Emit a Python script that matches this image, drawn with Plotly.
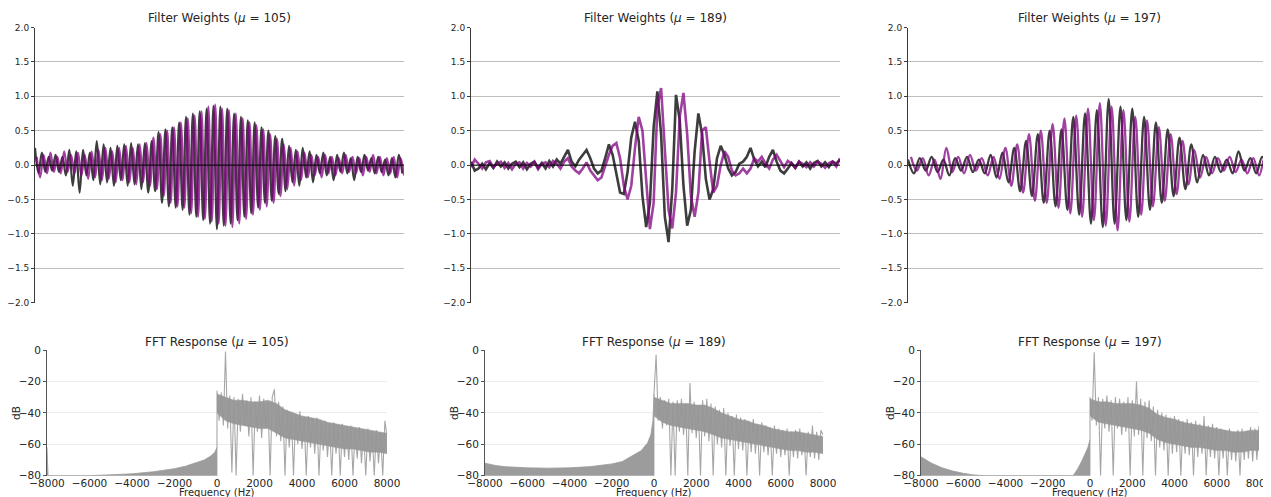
import plotly.graph_objects as go

# The page body has an 8px margin, so the figure is sized and laid out to land
# on the reference pixel positions inside the 1271x497 window.
OFF = 8
W, H = 1271 - OFF, 497 - OFF
FONT = "DejaVu Sans"
MU = [105, 189, 197]

# ---------------- Filter weights ----------------
# panel 1: successive half-cycle extrema (peak, trough, peak, ...)
P1_DARK = [0.25, -0.12, 0.18, -0.10, 0.12, -0.08, 0.15, -0.10, 0.12, -0.15,
           0.22, -0.30, 0.20, -0.40, 0.22, -0.15, 0.18, -0.22, 0.35, -0.28,
           0.30, -0.25, 0.25, -0.30, 0.28, -0.22, 0.30, -0.30, 0.32, -0.28,
           0.30, -0.35, 0.32, -0.40, 0.35, -0.38, 0.48, -0.55, 0.52, -0.60,
           0.55, -0.62, 0.62, -0.65, 0.70, -0.72, 0.75, -0.75, 0.78, -0.80,
           0.82, -0.85, 0.86, -0.93, 0.85, -0.88, 0.82, -0.85, 0.75, -0.80,
           0.70, -0.75, 0.65, -0.70, 0.62, -0.62, 0.55, -0.55, 0.50, -0.52,
           0.42, -0.42, 0.38, -0.38, 0.28, -0.25, 0.22, -0.30, 0.25, -0.18,
           0.20, -0.25, 0.15, -0.12, 0.18, -0.15, 0.12, -0.22, 0.15, -0.10,
           0.18, -0.12, 0.10, -0.22, 0.12, -0.10, 0.15, -0.08, 0.10, -0.12,
           0.12, -0.10, 0.08, -0.15, 0.10, -0.18, 0.15, -0.12]
P1_PURPLE = [0.12, -0.18, 0.15, -0.12, 0.18, -0.10, 0.12, -0.12, 0.20, -0.10,
             0.15, -0.12, 0.18, -0.15, 0.15, -0.20, 0.20, -0.18, 0.22, -0.22,
             0.25, -0.20, 0.20, -0.25, 0.25, -0.22, 0.28, -0.25, 0.25, -0.28,
             0.30, -0.25, 0.32, -0.30, 0.40, -0.35, 0.45, -0.45, 0.50, -0.55,
             0.55, -0.60, 0.62, -0.62, 0.68, -0.70, 0.72, -0.75, 0.78, -0.78,
             0.85, -0.82, 0.88, -0.85, 0.82, -0.88, 0.80, -0.90, 0.75, -0.85,
             0.68, -0.78, 0.62, -0.72, 0.58, -0.65, 0.52, -0.60, 0.45, -0.55,
             0.38, -0.45, 0.30, -0.35, 0.25, -0.30, 0.20, -0.22, 0.18, -0.18,
             0.15, -0.15, 0.12, -0.18, 0.15, -0.12, 0.12, -0.15, 0.10, -0.12,
             0.15, -0.10, 0.12, -0.12, 0.10, -0.15, 0.12, -0.10, 0.15, -0.12,
             0.12, -0.15, 0.10, -0.12, 0.12, -0.18, 0.10, -0.15]

# panel 2: samples on a regular grid
P2_DARK = [0.05, -0.08, -0.05, 0.02, -0.06, 0.03, -0.04, 0.05, -0.02, 0.04,
           -0.05, 0.02, 0.05, -0.03, 0.04, -0.06, 0.02, 0.05, -0.04, 0.03,
           -0.05, 0.06, -0.02, 0.08, 0.02, 0.12, 0.22, 0.05, -0.02, 0.08,
           0.15, 0.22, 0.10, -0.05, -0.12, -0.08, 0.10, 0.30, 0.15, -0.15,
           -0.40, -0.42, -0.10, 0.40, 0.63, 0.35, -0.45, -0.90, -0.55, 0.55,
           1.07, 0.45, -0.75, -1.12, -0.35, 1.02, 0.65, -0.30, -0.88, -0.65,
           0.20, 0.75, 0.45, -0.20, -0.50, -0.35, 0.10, 0.28, 0.15, -0.05,
           -0.15, -0.10, 0.02, 0.05, 0.12, 0.25, 0.08, -0.02, 0.05, -0.03,
           0.12, 0.22, 0.05, -0.08, -0.12, -0.05, 0.03, -0.04, 0.05, -0.02,
           0.04, -0.05, 0.03, 0.06, -0.02, 0.04, -0.03, 0.05, 0.02, 0.08]
P2_PURPLE = [-0.03, 0.08, 0.02, -0.05, 0.04, 0.06, -0.03, 0.02, 0.05, -0.04,
             0.03, -0.06, 0.02, 0.04, -0.05, 0.03, -0.02, 0.05, -0.06, 0.02,
             0.04, -0.03, 0.06, 0.02, -0.05, 0.05, 0.10, -0.02, -0.08, -0.12,
             -0.05, 0.04, -0.08, -0.15, -0.22, -0.18, 0.00, 0.15, 0.28, 0.32,
             0.10, -0.30, -0.50, -0.30, 0.25, 0.70, 0.50, -0.20, -0.93, -0.55,
             0.85, 1.12, 0.30, -0.65, -0.92, -0.40, 0.70, 1.05, 0.45, -0.45,
             -0.75, -0.40, 0.50, 0.55, 0.05, -0.40, -0.30, 0.00, 0.20, 0.12,
             -0.08, -0.15, -0.12, -0.05, -0.12, -0.05, 0.10, 0.05, 0.12, 0.02,
             -0.05, 0.08, 0.15, 0.05, -0.03, 0.06, 0.02, -0.04, 0.05, 0.02,
             -0.03, 0.04, -0.02, 0.05, 0.02, -0.04, 0.03, 0.05, -0.02, 0.10]

# panel 3: successive half-cycle extrema
P3_DARK = [0.08, -0.12, 0.10, -0.08, 0.12, -0.10, 0.08, -0.15, 0.10, -0.08,
           0.12, -0.10, 0.08, -0.12, 0.15, -0.18, 0.18, -0.25, 0.25, -0.38,
           0.35, -0.45, 0.45, -0.55, 0.50, -0.60, 0.52, -0.65, 0.70, -0.72,
           0.75, -0.85, 0.80, -0.90, 0.96, -0.85, 0.85, -0.80, 0.82, -0.75,
           0.70, -0.65, 0.62, -0.55, 0.52, -0.45, 0.40, -0.35, 0.30, -0.25,
           0.15, -0.15, 0.12, -0.10, 0.08, -0.12, 0.20, -0.08, 0.10, -0.12,
           0.12, -0.10]
P3_PURPLE = [0.12, -0.08, 0.10, -0.15, 0.08, -0.20, 0.25, -0.10, 0.12, -0.12,
             0.15, -0.08, 0.10, -0.15, 0.12, -0.20, 0.25, -0.30, 0.30, -0.40,
             0.45, -0.52, 0.50, -0.55, 0.60, -0.62, 0.68, -0.70, 0.72, -0.75,
             0.82, -0.80, 0.90, -0.88, 0.85, -0.95, 0.80, -0.82, 0.70, -0.72,
             0.65, -0.60, 0.55, -0.52, 0.45, -0.42, 0.35, -0.28, 0.22, -0.18,
             0.12, -0.12, 0.10, -0.08, 0.12, -0.10, 0.08, -0.12, 0.10, -0.15,
             0.12, -0.12]

# ---------------- FFT responses ----------------
FFT1_NEG_F = [-8000, -7990, -7950, -6000, -5000, -4000, -3000, -2000, -1500, -1000, -600, -300, -100, 0]
FFT1_NEG_DB = [-62, -72, -80, -80, -79.5, -78.8, -77.5, -75.5, -74, -72, -70, -67.5, -65, -62]
FFT2_NEG_F = [-8000, -7500, -7000, -6000, -5000, -4000, -3000, -2000, -1500, -1000, -600, -300, -150, -50, 0]
FFT2_NEG_DB = [-72, -73.5, -74.3, -75, -75.2, -75, -74.2, -72.5, -71, -67, -64, -59, -54, -45, -28]
FFT3_NEG_F = [-8000, -7500, -7000, -6500, -6000, -5500, -5000, -800, -600, -400, -200, -100, 0]
FFT3_NEG_DB = [-68, -72, -75, -77, -78.5, -79.5, -80, -80, -76, -71, -65, -62, -57]

# solid core of the noisy positive-frequency response (upper / lower edge)
BAND_F = list(range(0, 8001, 400))
FFT1_BAND_HI = [-28, -30, -32, -32, -33, -33, -32, -34, -38, -40, -42, -43, -44, -46, -47, -48, -49, -50, -51, -52, -53]
FFT1_BAND_LO = [-40, -45, -47, -48, -49, -50, -50, -53, -56, -57, -58, -59, -60, -61, -62, -63, -63, -64, -65, -65, -66]
FFT2_BAND_HI = [-30, -32, -34, -34, -34, -35, -35, -37, -40, -42, -44, -45, -47, -48, -50, -51, -52, -52, -53, -54, -55]
FFT2_BAND_LO = [-42, -46, -48, -49, -50, -51, -52, -54, -56, -57, -58, -59, -60, -61, -62, -63, -64, -64, -65, -65, -66]
FFT3_BAND_HI = [-31, -33, -33, -34, -34, -34, -35, -37, -41, -43, -44, -46, -47, -48, -49, -50, -51, -52, -52, -51, -51]
FFT3_BAND_LO = [-42, -46, -47, -48, -49, -50, -51, -53, -57, -59, -60, -61, -62, -62, -63, -64, -64, -65, -65, -64, -64]

# the spiky trace itself (peaks, dips)
POS_F = list(range(0, 8001, 100))
FFT1_POS_DB = [-26, -45, -27, -48, -1, -50, -29, -78, -30, -80,
               -31, -52, -28, -48, -32, -55, -30, -80, -33, -52,
               -29, -56, -31, -50, -34, -80, -30, -25, -55, -33,
               -58, -36, -80, -38, -62, -40, -80, -41, -60, -39,
               -63, -43, -80, -42, -62, -44, -66, -43, -80, -46,
               -64, -45, -68, -47, -80, -46, -66, -48, -80, -47,
               -68, -49, -70, -48, -80, -50, -69, -49, -72, -51,
               -80, -50, -71, -52, -80, -51, -72, -53, -80, -45,
               -55]
FFT2_POS_DB = [-28, -3, -45, -30, -50, -32, -48, -31, -80, -33,
               -80, -32, -52, -31, -54, -34, -80, -21, -53, -33,
               -56, -35, -80, -32, -55, -31, -58, -34, -80, -36,
               -60, -38, -62, -37, -80, -40, -61, -42, -80, -41,
               -63, -43, -64, -44, -80, -45, -65, -44, -66, -47,
               -80, -46, -65, -48, -67, -49, -80, -48, -66, -50,
               -68, -51, -67, -50, -80, -52, -68, -51, -69, -50,
               -67, -53, -80, -52, -68, -48, -69, -52, -70, -51,
               -54]
FFT3_POS_DB = [-30, -45, -1.5, -48, -30, -80, -31, -50, -29, -52,
               -32, -80, -30, -50, -31, -54, -33, -52, -30, -80,
               -32, -55, -20, -54, -31, -80, -33, -56, -32, -58,
               -36, -80, -38, -62, -40, -64, -41, -80, -43, -66,
               -42, -65, -44, -80, -45, -66, -44, -67, -46, -80,
               -45, -68, -47, -66, -42, -80, -48, -68, -47, -69,
               -49, -80, -50, -69, -51, -80, -50, -70, -52, -71,
               -51, -80, -50, -70, -52, -69, -49, -71, -50, -70,
               -48]

WEIGHT_TICKS = [-2.0, -1.5, -1.0, -0.5, 0.0, 0.5, 1.0, 1.5, 2.0]
DB_TICKS = [0, -20, -40, -60, -80]
FREQ_TICKS = [-8000, -6000, -4000, -2000, 0, 2000, 4000, 6000, 8000]

# ---------------- styling ----------------
DARK = "rgba(45,45,45,0.92)"
PURPLE = "rgba(128,0,128,0.75)"
FFT_GREY = "#9c9c9c"
FFT_LINE = "rgba(150,150,150,0.85)"
TXT = "#262626"

# reference pixel positions (window coordinates)
TOP_X_PX = [(35, 404), (471, 840), (908, 1271)]
BOT_X_PX = [(47, 387), (485, 823), (921, 1259)]
TOP_Y_PX = (27.5, 302.7)
BOT_Y_PX = (350, 475.7)
TOP_SHAPES = ["spline", "linear", "spline"]
TOP_WIDTHS = [2.2, 2.6, 2.3]


def sfx(k):
    return "" if k == 1 else str(k)


def px(x):
    return (x - OFF) / W


def py(y):
    return 1 - (y - OFF) / H


def xdom(a, b):
    return [px(a), min(1.0, px(b))]


def ydom(top, bottom):
    return [py(bottom), py(top)]


fig = go.Figure()

top_sets = [
    (P1_DARK, P1_PURPLE, 0.5),
    (P2_DARK, P2_PURPLE, 0.0),
    (P3_DARK, P3_PURPLE, 0.5),
]
for k, (dark, purple, shift) in enumerate(top_sets, start=1):
    s = sfx(k)
    xd = list(range(len(dark)))
    xp = [i + shift for i in range(len(purple))]
    shp = TOP_SHAPES[k - 1]
    lw = TOP_WIDTHS[k - 1]
    fig.add_trace(go.Scatter(x=xd, y=dark, mode="lines", xaxis=f"x{s}", yaxis=f"y{s}",
                             line=dict(color=DARK, width=lw, shape=shp),
                             showlegend=False, hoverinfo="skip"))
    fig.add_trace(go.Scatter(x=xp, y=purple, mode="lines", xaxis=f"x{s}", yaxis=f"y{s}",
                             line=dict(color=PURPLE, width=lw, shape=shp),
                             showlegend=False, hoverinfo="skip"))
    fig.update_layout({
        f"xaxis{s}": dict(domain=xdom(*TOP_X_PX[k - 1]), anchor=f"y{s}", visible=False,
                          range=[0, max(xd[-1], xp[-1])], automargin=False),
        f"yaxis{s}": dict(domain=ydom(*TOP_Y_PX), anchor=f"x{s}", range=[-2, 2],
                          tickvals=WEIGHT_TICKS, tickformat=".1f", automargin=False,
                          ticklabeloverflow="allow",
                          showgrid=True, gridcolor="#bdbdbd", gridwidth=1,
                          zeroline=False, showline=True, linecolor="#3a3a3a", linewidth=1,
                          ticks="outside", ticklen=3, tickcolor="#3a3a3a",
                          tickfont=dict(family=FONT, size=9, color=TXT)),
    })
    fig.add_shape(type="line", xref=f"x{s} domain", yref=f"y{s}", x0=0, x1=1, y0=0, y1=0,
                  line=dict(color="black", width=1), layer="above")
    cx = px((TOP_X_PX[k - 1][0] + TOP_X_PX[k - 1][1]) / 2)
    fig.add_annotation(x=cx, y=py(17.5), xref="paper", yref="paper", showarrow=False,
                       text=f"Filter Weights (<i>μ</i> = {MU[k - 1]})",
                       font=dict(family=FONT, size=12, color=TXT), xanchor="center", yanchor="middle")

bot_sets = [
    (FFT1_NEG_F, FFT1_NEG_DB, FFT1_BAND_HI, FFT1_BAND_LO, FFT1_POS_DB),
    (FFT2_NEG_F, FFT2_NEG_DB, FFT2_BAND_HI, FFT2_BAND_LO, FFT2_POS_DB),
    (FFT3_NEG_F, FFT3_NEG_DB, FFT3_BAND_HI, FFT3_BAND_LO, FFT3_POS_DB),
]
for j, (nf, ndb, bhi, blo, pdb) in enumerate(bot_sets, start=1):
    s = sfx(j + 3)
    # negative frequencies: filled down to the -80 dB floor
    fig.add_trace(go.Scatter(x=nf + [nf[-1], nf[0]], y=ndb + [-80, -80], mode="lines",
                             fill="toself", fillcolor=FFT_GREY, xaxis=f"x{s}", yaxis=f"y{s}",
                             line=dict(color=FFT_GREY, width=0.8),
                             showlegend=False, hoverinfo="skip"))
    # positive frequencies: dense core band
    fig.add_trace(go.Scatter(x=BAND_F + BAND_F[::-1], y=bhi + blo[::-1], mode="lines",
                             fill="toself", fillcolor=FFT_GREY, xaxis=f"x{s}", yaxis=f"y{s}",
                             line=dict(color=FFT_GREY, width=0.5),
                             showlegend=False, hoverinfo="skip"))
    # spiky trace with peaks and dips
    fig.add_trace(go.Scatter(x=[nf[-1]] + POS_F, y=[ndb[-1]] + pdb, mode="lines",
                             xaxis=f"x{s}", yaxis=f"y{s}",
                             line=dict(color=FFT_LINE, width=1.1),
                             showlegend=False, hoverinfo="skip"))
    fig.update_layout({
        f"xaxis{s}": dict(domain=xdom(*BOT_X_PX[j - 1]), anchor=f"y{s}", range=[-8000, 8000],
                          tickvals=FREQ_TICKS, ticks="", showgrid=False, zeroline=False,
                          showline=False, tickformat="d", automargin=False,
                          ticklabeloverflow="allow",
                          tickfont=dict(family=FONT, size=10.5, color=TXT)),
        f"yaxis{s}": dict(domain=ydom(*BOT_Y_PX), anchor=f"x{s}", range=[-80, 0],
                          tickvals=DB_TICKS, showgrid=True, gridcolor="#ececec", gridwidth=1,
                          zeroline=False, showline=True, linecolor="#555555", linewidth=1,
                          ticks="outside", ticklen=3, tickcolor="#555555", automargin=False,
                          ticklabeloverflow="allow",
                          tickfont=dict(family=FONT, size=10.5, color=TXT)),
    })
    a, b = BOT_X_PX[j - 1]
    cx = px((a + b) / 2)
    fig.add_annotation(x=cx, y=py(341.5), xref="paper", yref="paper", showarrow=False,
                       text=f"FFT Response (<i>μ</i> = {MU[j - 1]})",
                       font=dict(family=FONT, size=12, color=TXT), xanchor="center", yanchor="middle")
    fig.add_annotation(x=cx, y=py(492), xref="paper", yref="paper", showarrow=False,
                       text="Frequency (Hz)", font=dict(family=FONT, size=10, color=TXT),
                       xanchor="center", yanchor="middle")
    fig.add_annotation(x=px(a - 31), y=py(413), xref="paper", yref="paper", showarrow=False,
                       text="dB", textangle=-90, font=dict(family=FONT, size=10.5, color=TXT),
                       xanchor="center", yanchor="middle")

fig.update_layout(width=W, height=H, margin=dict(l=0, r=0, t=0, b=0),
                  paper_bgcolor="white", plot_bgcolor="white",
                  font=dict(family=FONT, color=TXT))

fig.write_html("out.html")
